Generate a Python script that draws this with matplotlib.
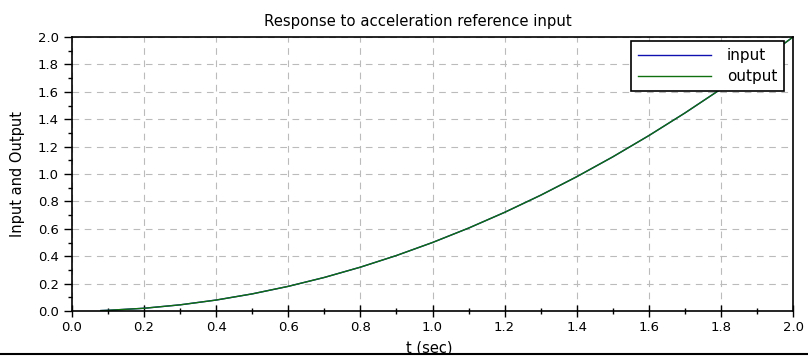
import numpy as np
import matplotlib.pyplot as plt
from matplotlib.ticker import MultipleLocator
from matplotlib.patches import Rectangle
from matplotlib.lines import Line2D

# values
t = [0.08, 0.1, 0.2, 0.3, 0.4, 0.5, 0.6, 0.7, 0.8, 0.9, 1.0,
     1.1, 1.2, 1.3, 1.4, 1.5, 1.6, 1.7, 1.8, 1.9, 2.0]
input_vals = [0.003, 0.005, 0.02, 0.045, 0.08, 0.125, 0.18, 0.245, 0.32, 0.405, 0.5,
              0.605, 0.72, 0.845, 0.98, 1.125, 1.28, 1.445, 1.62, 1.805, 2.0]
output_vals = [0.003, 0.005, 0.02, 0.045, 0.08, 0.125, 0.18, 0.245, 0.32, 0.405, 0.5,
               0.605, 0.72, 0.845, 0.98, 1.125, 1.28, 1.445, 1.62, 1.805, 2.0]

plt.rcParams['font.family'] = ['DejaVu Sans']

fig = plt.figure(figsize=(8.08, 3.60), dpi=100)
ax = fig.add_axes([72/808, 1 - 311/360, (793 - 72)/808, (311 - 37)/360])

ax.plot(t, input_vals, color='#1010b0', lw=1.0, label='input')
ax.plot(t, output_vals, color='#107010', lw=1.0, label='output')

ax.set_xlim(0, 2)
ax.set_ylim(0, 2)
ax.xaxis.set_major_locator(MultipleLocator(0.2))
ax.xaxis.set_minor_locator(MultipleLocator(0.1))
ax.yaxis.set_major_locator(MultipleLocator(0.2))
ax.yaxis.set_minor_locator(MultipleLocator(0.1))
ax.xaxis.set_major_formatter(plt.FormatStrFormatter('%.1f'))
ax.yaxis.set_major_formatter(plt.FormatStrFormatter('%.1f'))
ax.tick_params(axis='both', which='major', labelsize=9.5, direction='out', length=6, width=1)
ax.tick_params(axis='both', which='minor', direction='out', length=3, width=1)
ax.tick_params(axis='x', which='major', direction='inout', length=8, pad=3)
ax.tick_params(axis='x', which='minor', direction='inout', length=4)

ax.grid(True, which='major', color='#bbbbbb', linestyle=(0, (6, 5)), lw=0.8)
for s in ax.spines.values():
    s.set_linewidth(1.2)

ax.set_title('Response to acceleration reference input', fontsize=10.7, pad=8, x=0.48)
ax.set_xlabel('t (sec)', fontsize=10.5, labelpad=5, x=0.495)
ax.set_ylabel('Input and Output', fontsize=10.5, labelpad=9)

leg = ax.legend(loc='upper right', bbox_to_anchor=(0.9875, 0.9854), fontsize=11,
                fancybox=False, framealpha=1, edgecolor='black', borderaxespad=0,
                handlelength=4.8, handletextpad=1.0, borderpad=0.45, labelspacing=0.42)
leg.get_frame().set_linewidth(1.2)

# screenshot bottom edge: line that cuts through the x label
fig.patches.append(Rectangle((0, 0), 1, 7/360, transform=fig.transFigure,
                             facecolor='white', edgecolor='none', zorder=10))
fig.lines.append(Line2D([0, 1], [6.5/360, 6.5/360], transform=fig.transFigure,
                        color='black', lw=1.5, zorder=11))

fig.savefig('out.png', dpi=100)
